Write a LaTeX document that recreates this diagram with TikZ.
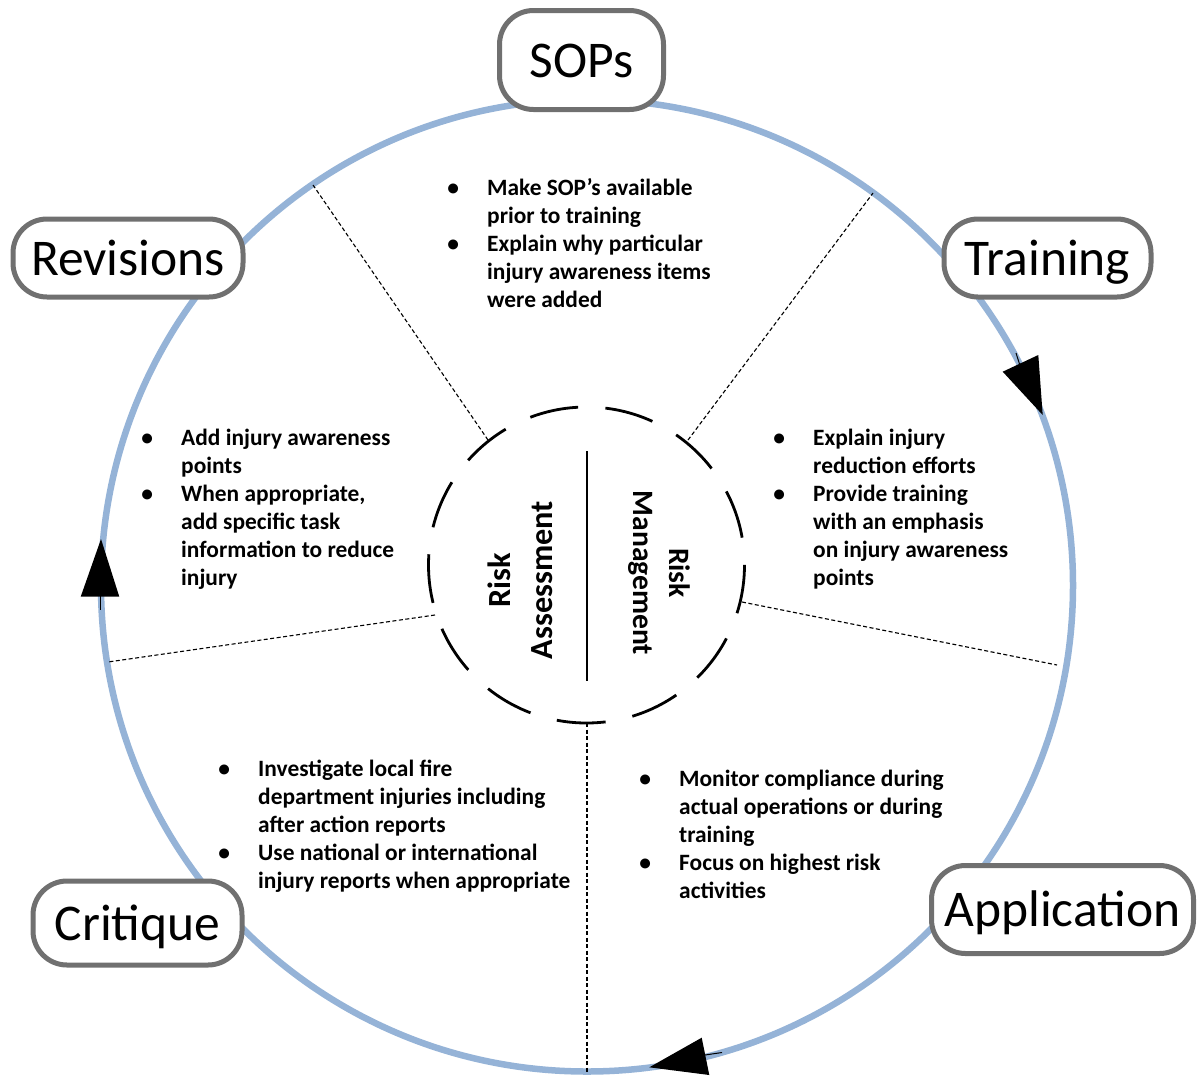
\documentclass[tikz,border=0pt]{standalone}
\usepackage{fontspec}
\setmainfont{Carlito}
\definecolor{ringblue}{HTML}{95B3D7}
\definecolor{boxgray}{HTML}{707070}
\newcommand\bul{\llap{\makebox[0pt]{\textbullet}\hspace{34pt}}}
\begin{document}
\begin{tikzpicture}[x=1pt,y=-1pt,
  ring/.style={draw=ringblue, line width=6.5pt},
  lbl/.style={draw=boxgray, line width=5pt, fill=white, rounded corners=34pt,
    font=\fontsize{51.5}{60}\selectfont, inner sep=0pt, text height=44pt, text depth=10pt},
  radial/.style={line width=1.1pt, dash pattern=on 4pt off 2.5pt},
  body/.style={anchor=base west, inner sep=0pt, font=\bfseries\fontsize{23.4}{28}\selectfont},
  rot/.style={inner sep=0pt, align=center},
  tipshape/.style={fill=black},
]
\useasboundingbox (0,0) rectangle (1197,1077);

% outer ring
\draw[ring] (587,585.5) circle[radius=486];

% radial separators
\coordinate (i1) at (488,440);   \coordinate (o1) at (313,185);
\coordinate (i2) at (688,440);   \coordinate (o2) at (873,193);
\coordinate (i3) at (742,602);   \coordinate (o3) at (1057,665);
\coordinate (i4) at (435,615);   \coordinate (o4) at (108,662);
\coordinate (i5) at (587,723);   \coordinate (o5) at (587,1072);
\draw[radial] (i1) -- (o1);
\draw[radial] (i2) -- (o2);
\draw[radial] (i3) -- (o3);
\draw[radial] (i4) -- (o4);
\draw[radial] (i5) -- (o5);

% inner dashed circle
\draw[line width=2.8pt, dash pattern=on 49pt off 27.36pt] (586.5,565) circle[radius=158];
\coordinate (vt) at (587,451); \coordinate (vb) at (587,681);
\draw[line width=1.3pt] (vt) -- (vb);

\node[rot, rotate=90, font=\bfseries\fontsize{32.3}{42}\selectfont] (ra) at (520,580) {Risk\\Assessment};
\node[rot, rotate=-90, font=\bfseries\fontsize{29.6}{36}\selectfont] (rm) at (659,573) {Risk\\Management};

% arrowheads on the ring
\coordinate (a1a) at (1002.7,371.7); \coordinate (a1b) at (1038.3,355); \coordinate (a1c) at (1042.7,415);
\fill[tipshape] (a1a) -- (a1b) -- (a1c) -- cycle;
\coordinate (t1a) at (1016,353); \coordinate (t1b) at (1019.5,364);
\draw[line width=1pt] (t1a) -- (t1b);
\coordinate (a2a) at (101,539); \coordinate (a2b) at (80.7,596.7); \coordinate (a2c) at (119.3,596.7);
\fill[tipshape] (a2a) -- (a2b) -- (a2c) -- cycle;
\coordinate (t2a) at (100,596); \coordinate (t2b) at (100,610);
\draw[line width=1pt] (t2a) -- (t2b);
\coordinate (a3a) at (649.3,1067.3); \coordinate (a3b) at (701.7,1037.7); \coordinate (a3c) at (709.3,1075);
\fill[tipshape] (a3a) -- (a3b) -- (a3c) -- cycle;
\coordinate (t3a) at (705,1055); \coordinate (t3b) at (722,1052.5);
\draw[line width=1pt] (t3a) -- (t3b);

% stage labels
\node[lbl, minimum width=164, minimum height=99] (sops) at (581.5,60) {SOPs};
\node[lbl, minimum width=207, minimum height=78] (training) at (1047.5,258) {Training};
\node[lbl, minimum width=230, minimum height=78] (revisions) at (128,258) {Revisions};
\node[lbl, minimum width=209, minimum height=84] (critique) at (137.5,923) {Critique};
\node[lbl, minimum width=262, minimum height=88] (application) at (1062.5,909.5) {Application};

% text blocks
\node[body] (tsops) at (487,195) {\begin{tabular}[t]{@{}l@{}}
\bul Make SOP’s available\\
prior to training\\
\bul Explain why particular\\
injury awareness items\\
were added\end{tabular}};

\node[body] (trev) at (181,445) {\begin{tabular}[t]{@{}l@{}}
\bul Add injury awareness\\
points\\
\bul When appropriate,\\
add specific task\\
information to reduce\\
injury\end{tabular}};

\node[body] (ttrain) at (813,445) {\begin{tabular}[t]{@{}l@{}}
\bul Explain injury\\
reduction efforts\\
\bul Provide training\\
with an emphasis\\
on injury awareness\\
points\end{tabular}};

\node[body] (tcrit) at (258,776) {\begin{tabular}[t]{@{}l@{}}
\bul Investigate local fire\\
department injuries including\\
after action reports\\
\bul Use national or international\\
injury reports when appropriate\end{tabular}};

\node[body] (tapp) at (679,786) {\begin{tabular}[t]{@{}l@{}}
\bul Monitor compliance during\\
actual operations or during\\
training\\
\bul Focus on highest risk\\
activities\end{tabular}};
\end{tikzpicture}
\end{document}
